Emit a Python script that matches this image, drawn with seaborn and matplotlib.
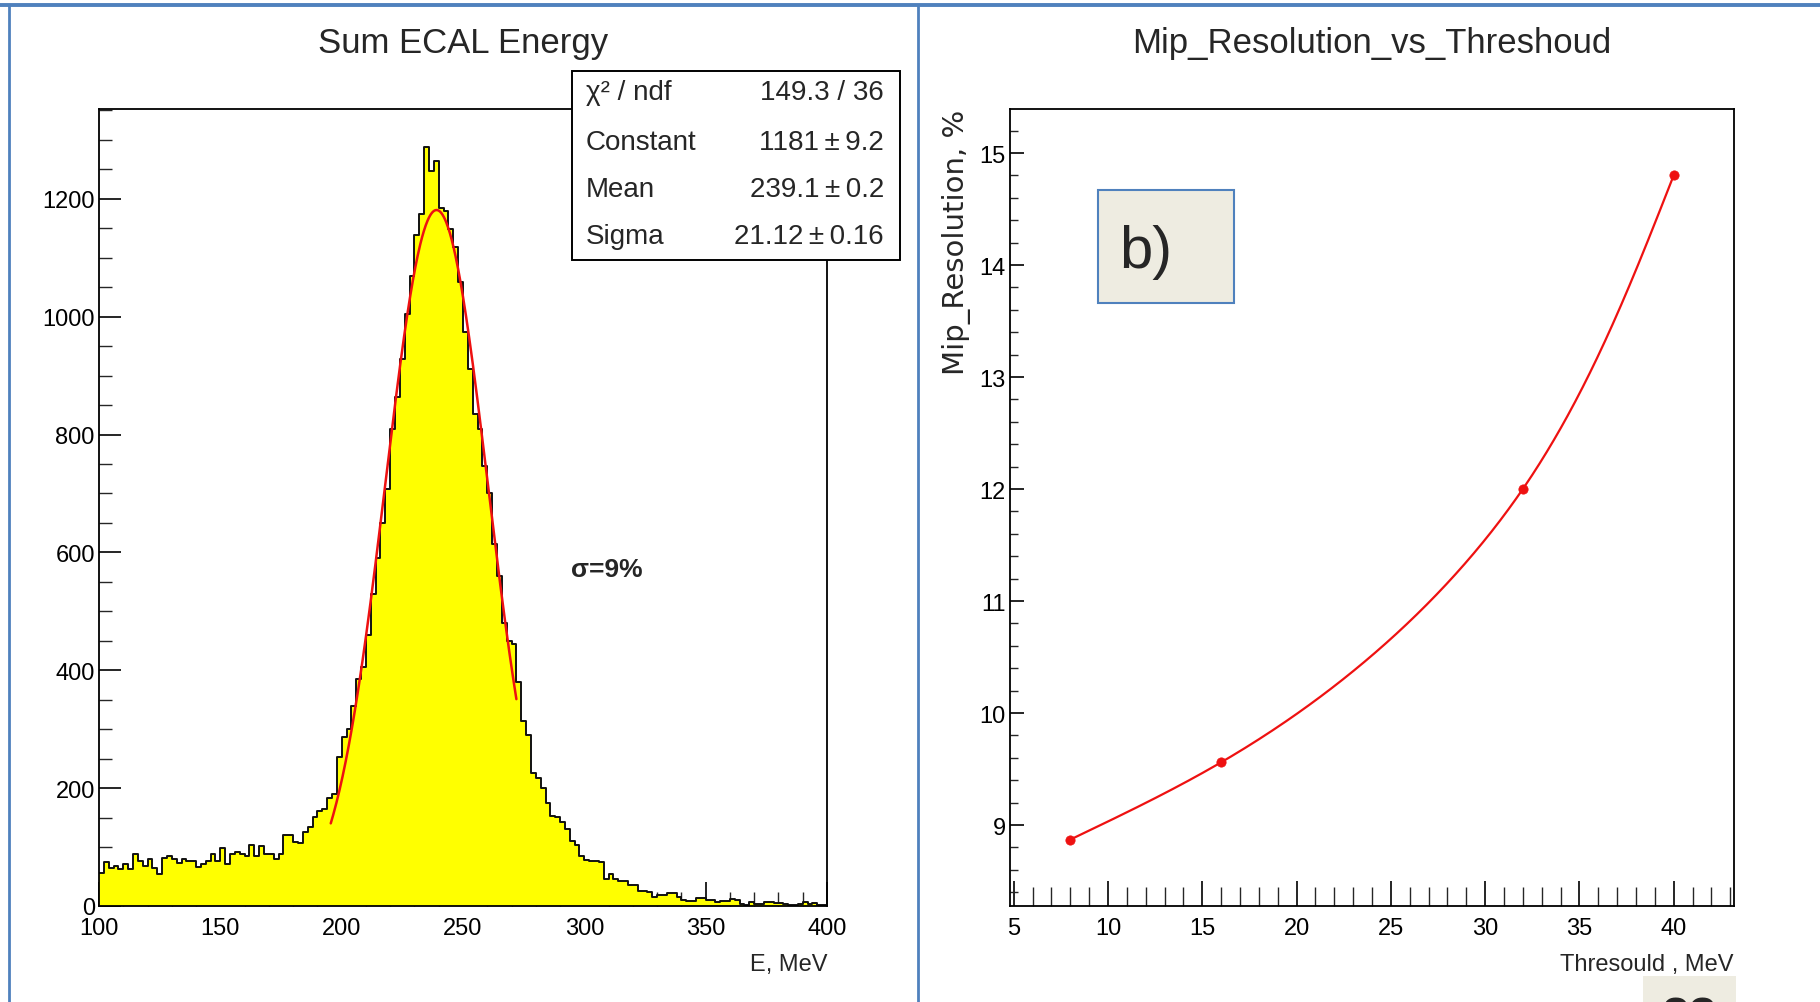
import numpy as np
import pandas as pd
import matplotlib
matplotlib.use("Agg")
import matplotlib.pyplot as plt
from matplotlib import font_manager
from matplotlib.lines import Line2D
from matplotlib.patches import Rectangle
from matplotlib.ticker import MultipleLocator
import seaborn as sns

# ---------------- data ----------------
# Sum ECAL energy histogram: 2 MeV bins from 100 to 400 MeV
bin_low = 100.0
bin_width = 2.0
events = [
    56, 75, 65, 68, 62, 71, 63, 89, 77, 68,
    79, 65, 54, 82, 84, 79, 73, 80, 77, 77,
    67, 71, 77, 89, 77, 99, 71, 89, 91, 88,
    84, 103, 85, 101, 88, 88, 79, 88, 120, 120,
    109, 107, 126, 134, 151, 162, 165, 184, 190, 253,
    287, 300, 340, 385, 405, 460, 530, 590, 650, 708,
    809, 863, 928, 1004, 1069, 1138, 1175, 1288, 1248, 1264,
    1185, 1180, 1149, 1118, 1059, 974, 911, 835, 809, 747,
    700, 615, 560, 480, 450, 445, 380, 314, 290, 225,
    218, 200, 174, 152, 151, 143, 131, 111, 103, 85,
    78, 77, 77, 74, 45, 55, 46, 43, 43, 35,
    35, 25, 25, 24, 15, 18, 18, 22, 22, 15,
    11, 9, 9, 14, 14, 11, 11, 7, 8, 8,
    12, 11, 3, 2, 6, 4, 4, 7, 7, 5,
    5, 3, 2, 2, 4, 6, 3, 5, 2, 2,
]

# Gaussian fit parameters and the range the fit was drawn over
fit_constant = 1181.0
fit_mean = 239.1
fit_sigma = 21.12
fit_range = (195.5, 272.0)

stats_labels = ["\u03c7\u00b2 / ndf", "Constant", "Mean", "Sigma"]
stats_values = ["149.3 / 36", "1181\u2009\u00b1\u20099.2", "239.1\u2009\u00b1\u20090.2",
                "21.12\u2009\u00b1\u20090.16"]

# MIP resolution versus threshold
threshold_mev = [8, 16, 32, 40]
resolution_pct = [8.87, 9.56, 12.0, 14.8]

# ---------------- style ----------------
sns.set_theme(style="white")
installed = {f.name for f in font_manager.fontManager.ttflist}
narrow_fonts = [f for f in ["Liberation Sans Narrow", "Liberation Sans", "DejaVu Sans"] if f in installed]
plt.rcParams["font.family"] = narrow_fonts + ["DejaVu Sans"]

W, H = 1820, 1003
fig = plt.figure(figsize=(W / 100, H / 100), dpi=100)
fig.patch.set_facecolor("white")


def axes_px(x0, y0, x1, y1):
    return fig.add_axes([x0 / W, 1 - y1 / H, (x1 - x0) / W, (y1 - y0) / H])


def frac_px(x, y):
    return x / W, 1 - y / H


SLIDE_BLUE = "#4F81BD"
BEIGE = "#EEECE1"
FIT_RED = "#EE1111"
TICK_FS = 17
TITLE_FS = 25

# ---------------- left panel: energy histogram ----------------
axL = axes_px(99, 110, 827, 907)
n_bins = len(events)
bin_high = bin_low + bin_width * n_bins
centers = bin_low + bin_width * (np.arange(n_bins) + 0.5)
hist_df = pd.DataFrame({"energy": centers, "events": events})

sns.histplot(data=hist_df, x="energy", weights="events", binwidth=bin_width,
             binrange=(bin_low, bin_high), element="step", fill=True,
             color="#FFFF00", alpha=1.0, linewidth=0, ax=axL)
sns.histplot(data=hist_df, x="energy", weights="events", binwidth=bin_width,
             binrange=(bin_low, bin_high), element="step", fill=False,
             color="#111111", linewidth=1.4, ax=axL)

fit_x = np.linspace(fit_range[0], fit_range[1], 300)
fit_y = fit_constant * np.exp(-0.5 * ((fit_x - fit_mean) / fit_sigma) ** 2)
sns.lineplot(x=fit_x, y=fit_y, color=FIT_RED, linewidth=1.8, ax=axL)

axL.set_xlim(bin_low, bin_high)
axL.set_ylim(0, 1.05 * max(events))
axL.xaxis.set_major_locator(MultipleLocator(50))
axL.xaxis.set_minor_locator(MultipleLocator(10))
axL.yaxis.set_major_locator(MultipleLocator(200))
axL.yaxis.set_minor_locator(MultipleLocator(50))
axL.tick_params(axis="x", which="major", direction="in", length=17, width=1.2,
                bottom=True, top=False, labelsize=TICK_FS, pad=8, colors="black")
axL.tick_params(axis="x", which="minor", direction="in", length=10, width=1.0,
                bottom=True, top=False)
axL.tick_params(axis="y", which="major", direction="in", length=16, width=1.2,
                left=True, right=False, labelsize=TICK_FS, pad=3, colors="black")
axL.tick_params(axis="y", which="minor", direction="in", length=9, width=1.0,
                left=True, right=False)
axL.set_ylabel("")
axL.set_xlabel("E, MeV", fontsize=17, loc="right")
axL.xaxis.set_label_coords(1.0, -(954 - 907) / (907 - 110))
for sp in axL.spines.values():
    sp.set_color("black")
    sp.set_linewidth(1.3)
axL.text(0.5, 1 + (110 - 43) / (907 - 110), "Sum ECAL Energy", transform=axL.transAxes,
         ha="center", va="center", fontsize=TITLE_FS)
axL.text((607 - 99) / (827 - 99), (907 - 570) / (907 - 110), "\u03c3=9%",
         transform=axL.transAxes, ha="center", va="center", fontsize=19, fontweight="bold")

# statistics box
bx0, by0, bx1, by1 = 572, 72, 900, 261
fig.add_artist(Rectangle(frac_px(bx0, by1), (bx1 - bx0) / W, (by1 - by0) / H,
                         transform=fig.transFigure, facecolor="white",
                         edgecolor="black", linewidth=1.4, zorder=5))
row_y = [93, 143, 190, 237]
for lab, val, ry in zip(stats_labels, stats_values, row_y):
    fig.text(*frac_px(586, ry), lab, ha="left", va="center", fontsize=20, zorder=6)
    fig.text(*frac_px(884, ry), val, ha="right", va="center", fontsize=20, zorder=6)

# ---------------- right panel: resolution vs threshold ----------------
R_X0, R_X1, R_Y0, R_Y1 = 1010, 1734, 110, 907
axR = axes_px(R_X0, R_Y0, R_X1, R_Y1)

xr = max(threshold_mev) - min(threshold_mev)
yr = max(resolution_pct) - min(resolution_pct)
r_xlim = (min(threshold_mev) - 0.1 * xr, max(threshold_mev) + 0.1 * xr)
r_ylim = (min(resolution_pct) - 0.1 * yr, max(resolution_pct) + 0.1 * yr)


def natural_cubic(x, y, xs):
    x = np.asarray(x, float)
    y = np.asarray(y, float)
    n = len(x)
    h = np.diff(x)
    A = np.zeros((n, n))
    rhs = np.zeros(n)
    A[0, 0] = A[-1, -1] = 1.0
    for i in range(1, n - 1):
        A[i, i - 1] = h[i - 1]
        A[i, i] = 2 * (h[i - 1] + h[i])
        A[i, i + 1] = h[i]
        rhs[i] = 6 * ((y[i + 1] - y[i]) / h[i] - (y[i] - y[i - 1]) / h[i - 1])
    M = np.linalg.solve(A, rhs)
    idx = np.clip(np.searchsorted(x, xs) - 1, 0, n - 2)
    x0, x1 = x[idx], x[idx + 1]
    hh = x1 - x0
    a = (x1 - xs) / hh
    b = (xs - x0) / hh
    return (a * y[idx] + b * y[idx + 1]
            + ((a ** 3 - a) * M[idx] + (b ** 3 - b) * M[idx + 1]) * hh ** 2 / 6)


def smooth_curve(x, y, n=400):
    """Parametric spline through the points, using chord length on screen."""
    sx = (R_X1 - R_X0) / (r_xlim[1] - r_xlim[0])
    sy = (R_Y1 - R_Y0) / (r_ylim[1] - r_ylim[0])
    X = (np.asarray(x, float) - r_xlim[0]) * sx
    Y = (np.asarray(y, float) - r_ylim[0]) * sy
    s = np.concatenate([[0.0], np.cumsum(np.hypot(np.diff(X), np.diff(Y)))])
    ss = np.linspace(0, s[-1], n)
    Xs = natural_cubic(s, X, ss)
    Ys = natural_cubic(s, Y, ss)
    return Xs / sx + r_xlim[0], Ys / sy + r_ylim[0]


curve_x, curve_y = smooth_curve(threshold_mev, resolution_pct)
curve_df = pd.DataFrame({"thr": curve_x, "res": curve_y})
sns.lineplot(data=curve_df, x="thr", y="res", sort=False, color=FIT_RED,
             linewidth=1.6, ax=axR)
sns.scatterplot(x=threshold_mev, y=resolution_pct, color=FIT_RED, s=45,
                edgecolor=FIT_RED, linewidth=0.5, zorder=4, ax=axR)

axR.set_xlim(*r_xlim)
axR.set_ylim(*r_ylim)
axR.xaxis.set_major_locator(MultipleLocator(5))
axR.xaxis.set_minor_locator(MultipleLocator(1))
axR.yaxis.set_major_locator(MultipleLocator(1))
axR.yaxis.set_minor_locator(MultipleLocator(0.2))
axR.tick_params(axis="x", which="major", direction="in", length=18, width=1.2,
                bottom=True, top=False, labelsize=TICK_FS, pad=8, colors="black")
axR.tick_params(axis="x", which="minor", direction="in", length=14, width=1.0,
                bottom=True, top=False)
axR.tick_params(axis="y", which="major", direction="in", length=10, width=1.2,
                left=True, right=False, labelsize=TICK_FS, pad=3, colors="black")
axR.tick_params(axis="y", which="minor", direction="in", length=6, width=1.0,
                left=True, right=False)
for sp in axR.spines.values():
    sp.set_color("black")
    sp.set_linewidth(1.3)
axR.set_xlabel("Thresould , MeV", fontsize=17, loc="right")
axR.xaxis.set_label_coords(1.0, -(954 - 907) / (907 - 110))
axR.set_ylabel("Mip_Resolution, %", fontsize=21, loc="top", family="DejaVu Sans")
axR.yaxis.set_label_coords(-(1010 - 971) / (1734 - 1010), 1.0)
axR.text(0.5, 1 + (110 - 43) / (907 - 110), "Mip_Resolution_vs_Threshoud",
         transform=axR.transAxes, ha="center", va="center", fontsize=TITLE_FS)

# panel tag
fig.add_artist(Rectangle(frac_px(1098, 304), (1234 - 1098) / W, (304 - 191) / H,
                         transform=fig.transFigure, facecolor=BEIGE,
                         edgecolor=SLIDE_BLUE, linewidth=1.5, zorder=5))
fig.text(*frac_px(1119, 252), "b)", ha="left", va="center", fontsize=43,
         family=["Liberation Sans", "DejaVu Sans"], zorder=6)

# ---------------- slide frame ----------------
fig.add_artist(Line2D([0, 1], [1 - 6 / H] * 2, transform=fig.transFigure,
                      color=SLIDE_BLUE, linewidth=2.8, zorder=7))
for xv in (9, 918):
    fig.add_artist(Line2D([xv / W] * 2, [0, 1 - 6 / H], transform=fig.transFigure,
                          color=SLIDE_BLUE, linewidth=2.0, zorder=7))

# page number tab at the lower edge
fig.add_artist(Rectangle(frac_px(1643, 1003), (1736 - 1643) / W, (1003 - 977) / H,
                         transform=fig.transFigure, facecolor=BEIGE,
                         edgecolor="none", zorder=5))
fig.text(*frac_px(1689, 997), "23", ha="center", va="top", fontsize=36,
         family=["Liberation Sans", "DejaVu Sans"], fontweight="bold", zorder=6)

fig.savefig("out.png", dpi=100, facecolor="white")
